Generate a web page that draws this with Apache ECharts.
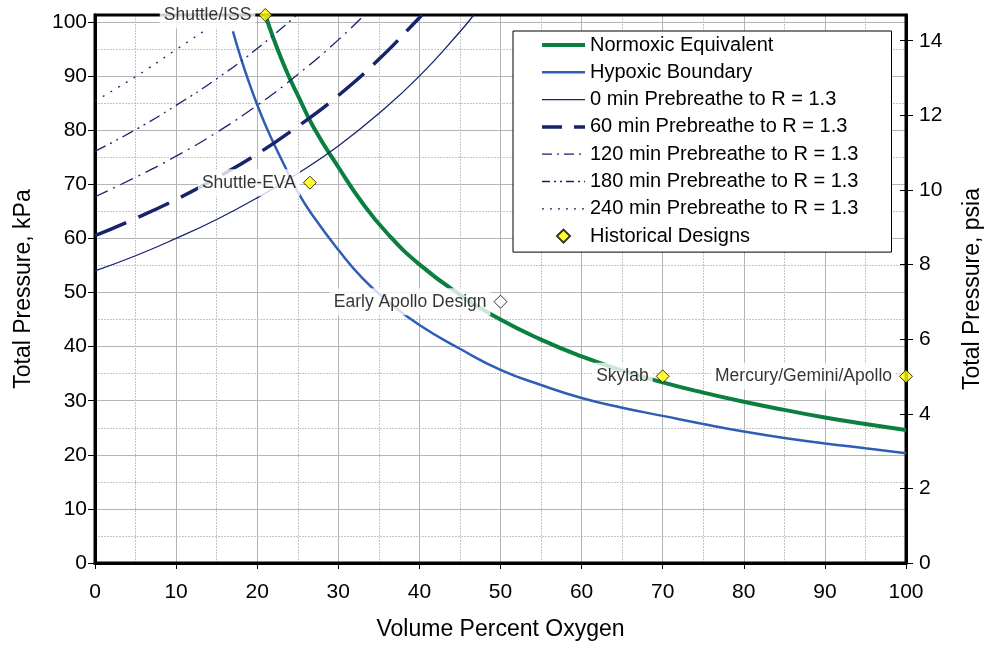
<!DOCTYPE html>
<html>
<head>
<meta charset="utf-8">
<script src="https://cdn.jsdelivr.net/npm/echarts@6/dist/echarts.min.js"></script>
<style>
  html, body { margin: 0; padding: 0; background: #fff; }
  #chart { width: 987px; height: 645px; }
</style>
</head>
<body>
<div id="chart"></div>
<script>
// values (x = volume % O2, y = total pressure kPa)
var o2Normoxic = [21, 22, 23, 24, 25, 27, 30, 33, 36, 40, 45, 50, 55, 60, 65, 70, 75, 80, 85, 90, 95, 100];
var kpaNormoxic = [101.3, 97.0, 93.1, 89.6, 86.5, 80.4, 73.2, 66.5, 61.0, 55.2, 49.6, 45.0, 41.3, 38.2, 35.6, 33.4, 31.5, 29.8, 28.3, 26.9, 25.7, 24.6];

var o2Hypoxic = [17, 18, 19, 20, 21, 22, 23, 25, 27, 30, 33, 36, 40, 45, 50, 55, 60, 65, 70, 75, 80, 85, 90, 95, 100];
var kpaHypoxic = [98.3, 93.3, 88.8, 84.7, 81.0, 77.7, 74.6, 68.6, 63.9, 57.9, 52.6, 48.5, 44.0, 39.6, 35.7, 32.9, 30.5, 28.7, 27.2, 25.7, 24.3, 23.1, 22.1, 21.2, 20.3];

var o2Pb0 = [0, 5, 10, 15, 20, 25, 30, 35, 40, 45, 46.7];
var kpaPb0 = [54.0, 56.8, 60.0, 63.5, 67.5, 72.0, 77.1, 83.1, 90.0, 98.2, 101.3];

var o2Pb60 = [0, 5, 10, 15, 20, 25, 30, 35, 40, 40.3];
var kpaPb60 = [60.5, 63.7, 67.2, 71.2, 75.6, 80.7, 86.4, 93.1, 100.8, 101.3];

var o2Pb120 = [0, 5, 10, 15, 20, 25, 30, 33.2];
var kpaPb120 = [67.7, 71.3, 75.2, 79.6, 84.6, 90.3, 96.7, 101.3];

var o2Pb180 = [0, 5, 10, 15, 20, 24.9];
var kpaPb180 = [76.1, 80.1, 84.6, 89.5, 95.1, 101.3];

var o2Pb240 = [0, 5, 10, 13.6];
var kpaPb240 = [85.4, 89.9, 94.9, 98.5];

var designNames = ['Shuttle/ISS', 'Shuttle-EVA', 'Early Apollo Design', 'Skylab', 'Mercury/Gemini/Apollo'];
var designO2 = [21, 26.5, 50, 70, 100];
var designKPa = [101.3, 70.3, 48.3, 34.5, 34.5];

var kpaMax = 101.3;
var psiaMax = 14.69;

var font = "'Liberation Sans', Arial, sans-serif";
var green = '#0A7F3F';
var blue = '#2F5DB5';
var navy = '#17236B';

function pairs(xs, ys) {
	return xs.map(function (x, i) { return [x, ys[i]]; });
}

function lineSeries(name, xs, ys, color, width, type) {
	return {
		name: name,
		type: 'line',
		xAxisIndex: 0,
		yAxisIndex: 0,
		data: pairs(xs, ys),
		smooth: true,
		symbol: 'none',
		z: 2,
		lineStyle: { color: color, width: width, type: type },
		itemStyle: { color: color }
	};
}

// legend entry for a line: no symbol, just the stroke
function legendLine(name, width, type) {
	return { name: name, itemStyle: { opacity: 0 }, lineStyle: { width: width, type: type || 'solid' } };
}

// small diamond centred in the 43x14 legend slot (outer moveTo points fix the bounds)
var legendDiamond = 'path://M0,0M43,14M21.5,0.5L28,7L21.5,13.5L15,7Z';

var chart = echarts.init(document.getElementById('chart'), null, { renderer: 'canvas' });

var designData = designNames.map(function (n, i) {
	var item = { name: n, value: [designO2[i], designKPa[i]] };
	if (n == 'Early Apollo Design') {
		item.itemStyle = { color: '#ffffff' };
	}
	return item;
});

var option = {
	backgroundColor: '#ffffff',
	animation: false,
	textStyle: { fontFamily: font },
	grid: [
		{ left: 95, right: 81, top: 15, bottom: 82, show: true, borderColor: '#000', borderWidth: 3, backgroundColor: 'transparent', z: 1, outerBoundsMode: 'none', containLabel: false },
		// only used for the horizontal gridlines 0..100
		{ left: 95, right: 81, top: 22.03, bottom: 82, show: false, outerBoundsMode: 'none', containLabel: false }
	],
	xAxis: [
		{
			gridIndex: 0, type: 'value', min: 0, max: 100, interval: 10,
			name: 'Volume Percent Oxygen', nameLocation: 'middle', nameGap: 55,
			nameTextStyle: { fontSize: 23, color: '#000', fontFamily: font },
			axisLine: { show: true, lineStyle: { color: '#000', width: 3 } },
			axisTick: { show: true, length: 6, lineStyle: { color: '#000', width: 1 } },
			axisLabel: { fontSize: 21, color: '#000', margin: 19, fontFamily: font },
			splitLine: { show: true, lineStyle: { color: '#b4b4b4', width: 1 } },
			minorTick: { show: false, splitNumber: 2 },
			minorSplitLine: { show: true, lineStyle: { color: '#c4c4c4', width: 1, type: [2, 1] } }
		},
		{
			gridIndex: 1, type: 'value', min: 0, max: 100,
			axisLine: { show: false }, axisTick: { show: false }, axisLabel: { show: false }, splitLine: { show: false }
		}
	],
	yAxis: [
		{
			gridIndex: 0, type: 'value', min: 0, max: kpaMax, interval: 10, position: 'left',
			name: 'Total Pressure, kPa', nameLocation: 'middle', nameGap: 60, nameRotate: 90,
			nameTextStyle: { fontSize: 23, color: '#000', fontFamily: font },
			axisLine: { show: true, lineStyle: { color: '#000', width: 3 } },
			axisTick: { show: true, length: 7, lineStyle: { color: '#000', width: 1 } },
			axisLabel: { fontSize: 21, color: '#000', margin: 8, showMaxLabel: false, fontFamily: font },
			splitLine: { show: false }
		},
		{
			gridIndex: 0, type: 'value', min: 0, max: psiaMax, interval: 2, position: 'right',
			name: 'Total Pressure, psia', nameLocation: 'middle', nameGap: 55, nameRotate: 90,
			nameTextStyle: { fontSize: 23, color: '#000', fontFamily: font },
			axisLine: { show: true, lineStyle: { color: '#000', width: 3 } },
			axisTick: { show: true, length: 7, lineStyle: { color: '#000', width: 1 } },
			axisLabel: { fontSize: 21, color: '#000', margin: 13, showMaxLabel: false, fontFamily: font },
			splitLine: { show: false }
		},
		{
			// inner half of the crossing psia ticks
			gridIndex: 0, type: 'value', min: 0, max: psiaMax, interval: 2, position: 'right',
			axisLine: { show: false },
			axisTick: { show: true, inside: true, length: 6, lineStyle: { color: '#000', width: 1 } },
			axisLabel: { show: false },
			splitLine: { show: false }
		},
		{
			gridIndex: 1, type: 'value', min: 0, max: 100, interval: 10,
			axisLine: { show: false }, axisTick: { show: false }, axisLabel: { show: false },
			splitLine: { show: true, lineStyle: { color: '#b4b4b4', width: 1 } },
			minorTick: { show: false, splitNumber: 2 },
			minorSplitLine: { show: true, lineStyle: { color: '#c4c4c4', width: 1, type: [2, 1] } }
		}
	],
	legend: {
		orient: 'vertical',
		left: 513,
		top: 31,
		itemWidth: 43,
		itemHeight: 14,
		itemGap: 7.3,
		padding: [4, 33, 6, 27],
		backgroundColor: '#fff',
		borderColor: '#000',
		borderWidth: 1,
		textStyle: { fontSize: 20, color: '#000', fontFamily: font },
		data: [
			legendLine('Normoxic Equivalent', 4),
			legendLine('Hypoxic Boundary', 2.5),
			legendLine('0 min Prebreathe to R = 1.3', 1.3),
			legendLine('60 min Prebreathe to R = 1.3', 3.5, [20, 12]),
			legendLine('120 min Prebreathe to R = 1.3', 1.3, [10, 5, 2, 5]),
			legendLine('180 min Prebreathe to R = 1.3', 1.3, [8, 4, 2, 4, 2, 4]),
			legendLine('240 min Prebreathe to R = 1.3', 1.3, [2, 6]),
			{ name: 'Historical Designs', icon: legendDiamond }
		]
	},
	series: [
		lineSeries('Normoxic Equivalent', o2Normoxic, kpaNormoxic, green, 4, 'solid'),
		lineSeries('Hypoxic Boundary', o2Hypoxic, kpaHypoxic, blue, 2.5, 'solid'),
		lineSeries('0 min Prebreathe to R = 1.3', o2Pb0, kpaPb0, navy, 1.3, 'solid'),
		lineSeries('60 min Prebreathe to R = 1.3', o2Pb60, kpaPb60, navy, 3.5, [34, 13]),
		lineSeries('120 min Prebreathe to R = 1.3', o2Pb120, kpaPb120, navy, 1.3, [14, 6, 2, 6]),
		lineSeries('180 min Prebreathe to R = 1.3', o2Pb180, kpaPb180, navy, 1.3, [12, 5, 2, 5, 2, 5]),
		lineSeries('240 min Prebreathe to R = 1.3', o2Pb240, kpaPb240, navy, 1.3, [2, 7]),
		{
			name: 'Historical Designs',
			type: 'scatter',
			xAxisIndex: 0,
			yAxisIndex: 0,
			data: designData,
			symbol: 'diamond',
			symbolSize: 13,
			clip: false,
			z: 5,
			itemStyle: { color: '#FFFF00', borderColor: '#000', borderWidth: 1 },
			label: {
				show: true,
				position: 'left',
				distance: 3,
				formatter: '{b}',
				fontSize: 17.5,
				fontFamily: font,
				color: '#000',
				backgroundColor: '#fff',
				padding: [5, 4, 4, 4]
			}
		}
	]
};

chart.setOption(option);
</script>
</body>
</html>
